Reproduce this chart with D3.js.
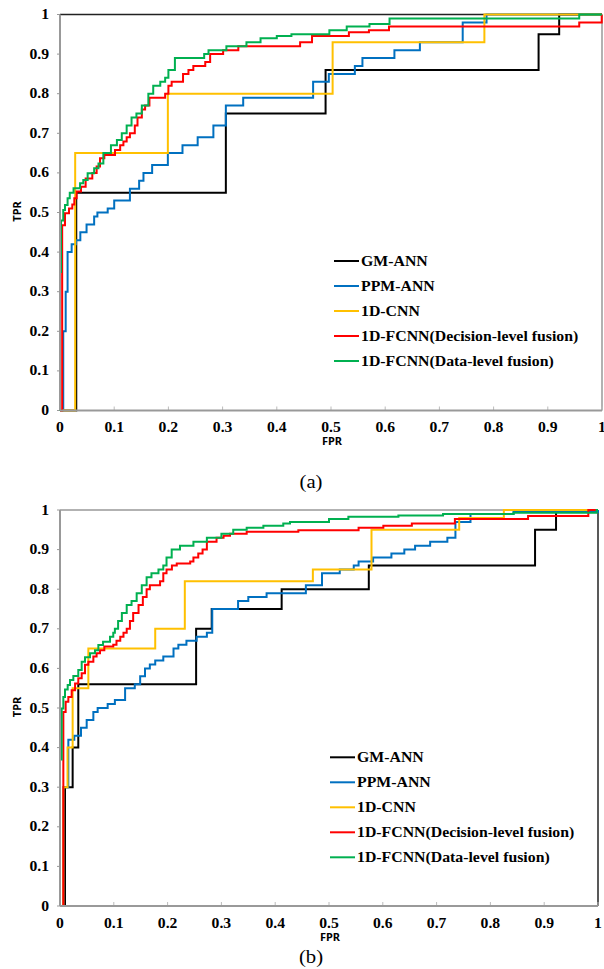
<!DOCTYPE html>
<html lang="en">
<head>
    <meta charset="UTF-8">
    <title>ROC curves</title>
    <script src="https://d3js.org/d3.v7.min.js"></script>
    <style>
        body { margin: 0; background: #fff; }
    </style>
</head>
<body>
    <svg width="604" height="969"></svg>

    <script>
        // series names and colours (legend order)
        const seriesNames = ["GM-ANN", "PPM-ANN", "1D-CNN", "1D-FCNN(Decision-level fusion)", "1D-FCNN(Data-level fusion)"];
        const seriesColors = ["#000000", "#0070C0", "#FFC000", "#FF0000", "#00B050"];
        const ticks = [0, 0.1, 0.2, 0.3, 0.4, 0.5, 0.6, 0.7, 0.8, 0.9, 1];

        // (a) points are [FPR, TPR], the curve steps right then up
        const gmAnnA = [[0,0],[0.03,0.55],[0.306,0.75],[0.49,0.86],[0.883,0.95],[0.921,1],[1,1]];
        const ppmAnnA = [[0,0],[0.006,0.2],[0.0105,0.3],[0.014,0.4],[0.0215,0.42],[0.0295,0.43],[0.0375,0.45],[0.049,0.47],
            [0.063,0.49],[0.069,0.5],[0.088,0.51],[0.1,0.53],[0.129,0.56],[0.146,0.58],[0.154,0.6],[0.17,0.62],[0.199,0.65],
            [0.226,0.67],[0.254,0.69],[0.283,0.72],[0.306,0.77],[0.338,0.79],[0.467,0.83],[0.496,0.85],[0.544,0.87],
            [0.558,0.89],[0.617,0.91],[0.664,0.93],[0.743,0.98],[0.787,1],[1,1]];
        const cnnA = [[0,0],[0.028,0.65],[0.199,0.8],[0.503,0.93],[0.783,1],[1,1]];
        const fcnnDecA = [[0,0],[0.004,0.468],[0.0092,0.498],[0.0166,0.51],[0.0227,0.52],[0.0264,0.536],[0.0307,0.553],
            [0.0387,0.565],[0.0473,0.586],[0.0596,0.6],[0.0676,0.616],[0.0738,0.637],[0.0818,0.645],[0.1015,0.658],
            [0.111,0.67],[0.117,0.679],[0.123,0.69],[0.129,0.7],[0.138,0.72],[0.143,0.74],[0.151,0.76],[0.157,0.77],
            [0.165,0.79],[0.194,0.8],[0.2,0.82],[0.206,0.83],[0.227,0.85],[0.237,0.86],[0.246,0.87],[0.268,0.88],
            [0.277,0.9],[0.301,0.91],[0.329,0.92],[0.443,0.93],[0.465,0.946],[0.533,0.955],[0.57,0.96],[0.607,0.97],
            [0.958,0.98],[0.9995,1],[1,1]];
        const fcnnDataA = [[0,0],[0,0.35],[0.0018,0.48],[0.006,0.506],[0.0092,0.519],[0.014,0.536],[0.018,0.55],
            [0.025,0.561],[0.037,0.574],[0.043,0.582],[0.051,0.599],[0.063,0.612],[0.071,0.624],[0.08,0.65],[0.094,0.67],
            [0.105,0.683],[0.114,0.7],[0.123,0.72],[0.132,0.74],[0.141,0.75],[0.151,0.77],[0.163,0.8],[0.172,0.82],
            [0.185,0.83],[0.194,0.84],[0.2,0.86],[0.212,0.89],[0.266,0.9],[0.274,0.91],[0.307,0.92],[0.344,0.93],
            [0.37,0.94],[0.4,0.946],[0.427,0.95],[0.497,0.96],[0.529,0.97],[0.571,0.976],[0.608,0.99],[0.958,1],[1,1]];

        // (b)
        const gmAnnB = [[0,0],[0.0093,0.3],[0.0235,0.4],[0.034,0.56],[0.253,0.7],[0.282,0.75],[0.412,0.8],[0.574,0.86],
            [0.883,0.95],[0.922,1],[1,1]];
        const ppmAnnB = [[0,0],[0.0062,0.3],[0.0155,0.42],[0.0266,0.43],[0.039,0.45],[0.0496,0.47],[0.062,0.49],[0.07,0.5],
            [0.0886,0.51],[0.102,0.52],[0.121,0.55],[0.139,0.56],[0.149,0.58],[0.158,0.6],[0.167,0.61],[0.177,0.62],
            [0.192,0.63],[0.211,0.65],[0.22,0.66],[0.235,0.67],[0.254,0.68],[0.273,0.69],[0.283,0.75],[0.331,0.77],
            [0.35,0.78],[0.384,0.79],[0.457,0.81],[0.487,0.84],[0.52,0.85],[0.546,0.86],[0.555,0.87],[0.582,0.88],
            [0.616,0.89],[0.64,0.9],[0.66,0.91],[0.688,0.92],[0.72,0.93],[0.735,0.97],[0.763,0.99],[0.843,0.995],[1,1]];
        const cnnB = [[0,0],[0.0062,0.3],[0.014,0.4],[0.0235,0.55],[0.0527,0.65],[0.177,0.7],[0.232,0.82],[0.47,0.85],
            [0.579,0.95],[0.742,0.98],[0.825,1],[1,1]];
        const fcnnDecB = [[0,0],[0.0062,0.49],[0.0105,0.516],[0.0155,0.528],[0.0217,0.545],[0.028,0.562],[0.034,0.575],
            [0.0403,0.588],[0.0465,0.609],[0.0527,0.617],[0.062,0.63],[0.068,0.638],[0.0743,0.646],[0.0824,0.655],
            [0.099,0.66],[0.105,0.67],[0.112,0.68],[0.118,0.69],[0.124,0.7],[0.13,0.72],[0.136,0.74],[0.146,0.76],
            [0.154,0.78],[0.161,0.8],[0.167,0.81],[0.186,0.82],[0.192,0.84],[0.198,0.85],[0.208,0.86],[0.217,0.865],
            [0.242,0.87],[0.248,0.88],[0.257,0.89],[0.265,0.9],[0.273,0.92],[0.291,0.93],[0.304,0.935],[0.316,0.94],
            [0.347,0.945],[0.443,0.949],[0.555,0.955],[0.601,0.96],[0.654,0.966],[0.734,0.977],[0.87,0.985],[0.982,1],[1,1]];
        const fcnnDataB = [[0,0],[0,0.37],[0.0031,0.499],[0.0062,0.528],[0.0093,0.547],[0.0143,0.558],[0.0186,0.571],
            [0.0248,0.581],[0.034,0.596],[0.0403,0.617],[0.0465,0.628],[0.0558,0.638],[0.065,0.646],[0.0713,0.659],
            [0.08,0.667],[0.093,0.68],[0.099,0.69],[0.102,0.7],[0.108,0.72],[0.115,0.74],[0.124,0.76],[0.133,0.77],
            [0.1425,0.79],[0.152,0.81],[0.161,0.83],[0.17,0.84],[0.183,0.85],[0.192,0.86],[0.198,0.88],[0.2076,0.9],
            [0.223,0.91],[0.248,0.92],[0.273,0.93],[0.3,0.94],[0.322,0.95],[0.347,0.955],[0.378,0.96],[0.415,0.966],
            [0.4275,0.97],[0.5,0.977],[0.536,0.983],[0.629,0.986],[0.712,0.99],[0.843,0.993],[0.9975,1],[1,1]];

        const svg = d3.select("svg");
        const serif = "'Liberation Serif', 'Times New Roman', serif";
        const sans = "'Noto Sans', 'Open Sans', sans-serif";

        // stretched text, the figure fonts are wider than Times
        function label(g, x, y, str, opts) {
            return g.append("text")
                .attr("transform", `translate(${x},${y}) scale(${opts.sx || 1},1)`)
                .attr("text-anchor", opts.anchor || "start")
                .attr("font-family", opts.family || serif)
                .attr("font-weight", opts.weight || "bold")
                .attr("font-size", opts.size)
                .attr("fill", "#000")
                .text(str);
        }

        function drawChart(c) {
            const x = d3.scaleLinear().domain([0, 1]).range([c.left, c.right]);
            const y = d3.scaleLinear().domain([0, 1]).range([c.bottom, c.top]);
            const g = svg.append("g");

            // frame
            g.append("line").attr("x1", c.left).attr("x2", c.right).attr("y1", c.top).attr("y2", c.top)
                .attr("stroke", c.topColor).attr("stroke-width", 1.5);
            g.append("line").attr("x1", c.right).attr("x2", c.right).attr("y1", c.top).attr("y2", c.bottom)
                .attr("stroke", c.rightColor).attr("stroke-width", 1.5);

            // ticks
            g.selectAll(".ytick").data(ticks).enter().append("line")
                .attr("x1", c.left - 3).attr("x2", c.left)
                .attr("y1", d => y(d)).attr("y2", d => y(d))
                .attr("stroke", "#999").attr("stroke-width", 1);
            g.selectAll(".xtick").data(ticks).enter().append("line")
                .attr("x1", d => x(d)).attr("x2", d => x(d))
                .attr("y1", c.bottom).attr("y2", c.bottom - 4)
                .attr("stroke", "#bbb").attr("stroke-width", 1);

            ticks.forEach(t => {
                label(g, c.left - 11, y(t) + 4.5, String(t), { anchor: "end", size: 14, sx: 1.12 });
                label(g, x(t), c.bottom + 21.5, String(t), { anchor: "middle", size: 14, sx: 1.12 });
            });

            // curves
            const line = d3.line()
                .x(d => x(d[0]))
                .y(d => y(d[1]))
                .curve(d3.curveStepAfter);
            c.series.forEach((s, i) => {
                g.append("path")
                    .datum(s)
                    .attr("d", line)
                    .attr("fill", "none")
                    .attr("stroke", seriesColors[i])
                    .attr("stroke-width", 2);
            });

            // axes on top
            g.append("line").attr("x1", c.left).attr("x2", c.left).attr("y1", c.top).attr("y2", c.bottom)
                .attr("stroke", "#999").attr("stroke-width", 2);
            g.append("line").attr("x1", c.left).attr("x2", c.right).attr("y1", c.bottom).attr("y2", c.bottom)
                .attr("stroke", "#999").attr("stroke-width", 2);

            // axis titles
            label(g, x(0.5) + 1, c.bottom + 34.5, "FPR", { anchor: "middle", size: 11, family: sans });
            g.append("text")
                .attr("transform", `translate(21,${y(0.5) - 1}) rotate(-90)`)
                .attr("text-anchor", "middle")
                .attr("font-family", sans)
                .attr("font-weight", "bold")
                .attr("font-size", 11)
                .text("TPR");

            // legend
            seriesNames.forEach((n, i) => {
                const ly = c.legendY + i * 25;
                g.append("line")
                    .attr("x1", c.legendX).attr("x2", c.legendX + 25)
                    .attr("y1", ly).attr("y2", ly)
                    .attr("stroke", seriesColors[i]).attr("stroke-width", 2);
                label(g, c.legendX + 27, ly + 5, n, { size: 14, sx: 1.13 });
            });

            // caption
            label(g, c.captionX, c.captionY, c.caption, { anchor: "middle", size: 18, weight: "normal", sx: 1.15 });
        }

        drawChart({
            left: 60, right: 602, top: 14.5, bottom: 410.5,
            topColor: "#222", rightColor: "#999",
            series: [gmAnnA, ppmAnnA, cnnA, fcnnDecA, fcnnDataA],
            legendX: 334, legendY: 261,
            caption: "(a)", captionX: 311, captionY: 488
        });

        drawChart({
            left: 60, right: 598, top: 510, bottom: 906,
            topColor: "#999", rightColor: "#222",
            series: [gmAnnB, ppmAnnB, cnnB, fcnnDecB, fcnnDataB],
            legendX: 330, legendY: 757.3,
            caption: "(b)", captionX: 311, captionY: 963
        });
    </script>
</body>
</html>
